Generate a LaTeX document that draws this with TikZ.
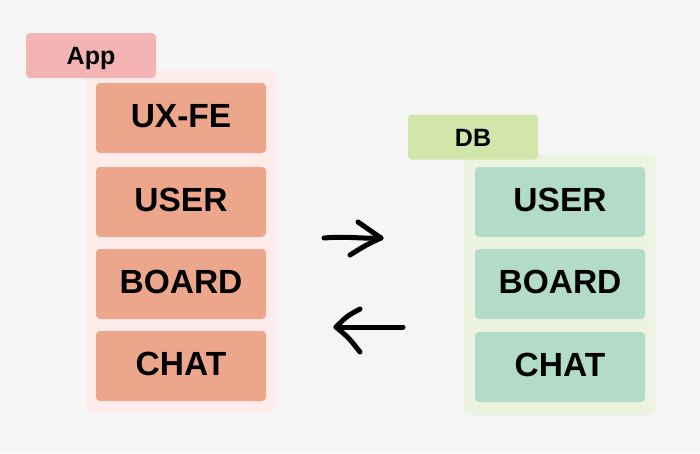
\documentclass[tikz,border=0pt]{standalone}
\usepackage{fontspec}
\setmainfont{Liberation Sans}
\definecolor{bg}{HTML}{F5F5F5}
\definecolor{applab}{HTML}{F4B4B4}
\definecolor{appcont}{HTML}{FDECEA}
\definecolor{appbox}{HTML}{ECA68B}
\definecolor{dblab}{HTML}{D1E6A9}
\definecolor{dbcont}{HTML}{ECF4E1}
\definecolor{dbbox}{HTML}{B3DCC8}
\tikzset{
  panel/.style={rectangle, rounded corners=4pt, inner sep=0pt, draw=none},
  lab/.style={panel, minimum width=130pt, minimum height=45pt, text height=18pt, text depth=0pt, font=\fontsize{25}{29}\selectfont\bfseries},
  item/.style={panel, minimum width=170pt, minimum height=70pt, text height=24pt, text depth=6pt, font=\fontsize{33.5}{38}\selectfont\bfseries},
  hand/.style={line width=5pt, line cap=round, line join=round, black}
}
\begin{document}
\begin{tikzpicture}[x=1pt,y=-1pt]
\fill[bg] (0,0) rectangle (700,453);
\useasboundingbox (0,0) rectangle (700,453);
% App
\node[panel, fill=appcont, minimum width=189pt, minimum height=343pt] (appc) at (180.5,241.5) {};
\node[lab, fill=applab] (appl) at (91,55.5) {App};
\node[item, fill=appbox] (a1) at (181,118) {UX-FE};
\node[item, fill=appbox] (a2) at (181,202) {USER};
\node[item, fill=appbox] (a3) at (181,284) {BOARD};
\node[item, fill=appbox] (a4) at (181,366) {CHAT};
% DB
\node[panel, fill=dbcont, minimum width=191pt, minimum height=260pt] (dbc) at (559.5,285) {};
\node[lab, fill=dblab] (dbl) at (473,137) {DB};
\node[item, fill=dbbox] (d1) at (560,202) {USER};
\node[item, fill=dbbox] (d2) at (560,284) {BOARD};
\node[item, fill=dbbox] (d3) at (560,367) {CHAT};
% arrows
\coordinate (r0) at (324,238);
\coordinate (r1) at (381,238);
\coordinate (ru) at (358,222);
\coordinate (rd) at (350,255);
\draw[hand] (r0) .. controls (345,236) and (365,239) .. (r1);
\draw[hand] (ru) .. controls (368,229) .. (r1) .. controls (366,245) .. (rd);
\coordinate (l0) at (403,327);
\coordinate (l1) at (336,327);
\coordinate (lu) at (360,309);
\coordinate (ld) at (360,352);
\draw[hand] (l0) -- (l1);
\draw[hand] (lu) .. controls (347,316) .. (l1) .. controls (349,338) .. (ld);
\end{tikzpicture}
\end{document}
